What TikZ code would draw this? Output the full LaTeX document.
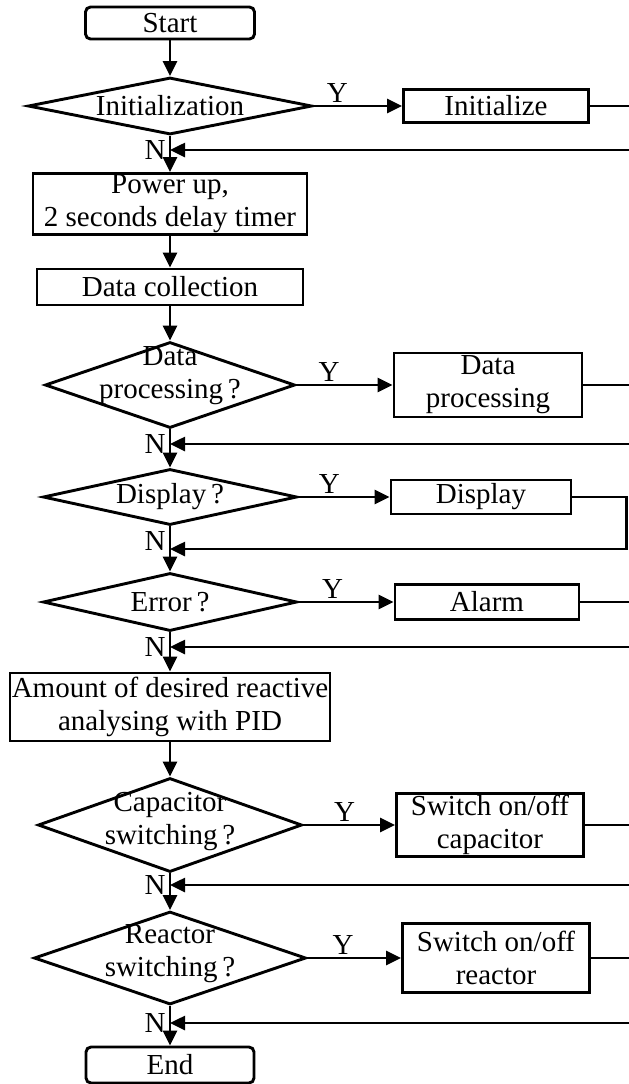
\documentclass[tikz,border=0pt]{standalone}
\usepackage{fontspec}
\setmainfont{Liberation Serif}
\usetikzlibrary{arrows.meta, positioning, shapes.geometric, calc}

\begin{document}
\begin{tikzpicture}[
  x=0.5pt, y=-0.5pt,
  font=\fontsize{14.5}{16.5}\selectfont,
  line width=1.45pt,
  box/.style={draw, rectangle, inner sep=0pt, align=center},
  term/.style={box, rounded corners=2.5pt},
  cond/.style={draw, diamond, inner sep=0pt},
  dtext/.style={align=center, inner sep=0pt},
  flow/.style={-{Triangle[length=7.5pt, width=7pt]}},
  back/.style={flow, line width=1.3pt},
  ylab/.style={above, inner sep=1pt},
  nlab/.style={left, inner sep=1.5pt}
]
\useasboundingbox (0,0) rectangle (628,1084);
% columns for the loop-back lines
\coordinate (rx) at (632,0);
\coordinate (rxd) at (626.5,0);

% main column
\node[term, minimum width=84.5pt, minimum height=16pt] (start) at (170,23) {Start};
\node[cond, minimum width=142pt, minimum height=28.5pt] (init) at (170,106) {};
\node[dtext] (init-t) at (init) {Initialization};
\coordinate (j1) at (170,150);
\node[box, minimum width=137pt, minimum height=30.5pt] (power) at (170,204) {Power up,\\2 seconds delay timer};
\node[box, minimum width=133pt, minimum height=18pt] (coll) at (170,287) {Data collection};
\node[cond, minimum width=125pt, minimum height=43pt] (dp) at (170,385) {};
\node[dtext] (dp-t) at (170,376) {Data\\processing\,?};
\coordinate (j2) at (170,444);
\node[cond, minimum width=127pt, minimum height=28pt] (disp) at (170,497) {};
\node[dtext] (disp-t) at (disp) {Display\,?};
\coordinate (j3) at (170,549);
\node[cond, minimum width=127pt, minimum height=29pt] (err) at (170,602) {};
\node[dtext] (err-t) at (err) {Error\,?};
\coordinate (j4) at (170,647);
\node[box, minimum width=160pt, minimum height=34pt] (amount) at (170,707) {Amount of desired reactive\\analysing with PID};
\node[cond, minimum width=132pt, minimum height=47pt] (cap) at (170,825) {};
\node[dtext] (cap-t) at (170,822) {Capacitor\\switching\,?};
\coordinate (j5) at (170,885);
\node[cond, minimum width=136pt, minimum height=46.5pt] (reac) at (170,958) {};
\node[dtext] (reac-t) at (170,954) {Reactor\\switching\,?};
\coordinate (j6) at (170,1023);
\node[term, minimum width=84pt, minimum height=18pt] (end) at (170,1065) {End};

% action column
\node[box, minimum width=92.5pt, minimum height=16.5pt] (initb) at (496,106) {Initialize};
\node[box, minimum width=94pt, minimum height=32pt] (dpb) at (488,385) {Data\\processing};
\node[box, minimum width=90pt, minimum height=17pt] (dispb) at (481,497) {Display};
\node[box, minimum width=92pt, minimum height=17.5pt] (alarm) at (487,602) {Alarm};
\node[box, minimum width=93.5pt, minimum height=31.5pt] (capb) at (490,825) {Switch on/off\\capacitor};
\node[box, minimum width=93.5pt, minimum height=34.5pt] (reacb) at (496,958) {Switch on/off\\reactor};

% downward flow
\draw[flow] (start) -- (init);
\draw[flow] (init) -- (power);
\draw[flow] (power) -- (coll);
\draw[flow] (coll) -- (dp);
\draw[flow] (dp) -- (disp);
\draw[flow] (disp) -- (err);
\draw[flow] (err) -- (amount);
\draw[flow] (amount) -- (cap);
\draw[flow] (cap) -- (reac);
\draw[flow] (reac) -- (end);

% yes branches
\draw[flow] (init) -- node[ylab, pos=.27] (y1) {Y} (initb);
\draw[flow] (dp) -- node[ylab, pos=.34] (y2) {Y} (dpb);
\draw[flow] (disp) -- node[ylab, pos=.34] (y3) {Y} (dispb);
\draw[flow] (err) -- node[ylab, pos=.36] (y4) {Y} (alarm);
\draw[flow] (cap) -- node[ylab, pos=.45] (y5) {Y} (capb);
\draw[flow] (reac) -- node[ylab, pos=.38] (y6) {Y} (reacb);

% loop back
\draw[back] (initb.east) -- (initb.east -| rx) |- (j1);
\draw[back] (dpb.east) -- (dpb.east -| rx) |- (j2);
\draw[back] (dispb.east) -- (dispb.east -| rxd) |- (j3);
\draw[back] (alarm.east) -- (alarm.east -| rx) |- (j4);
\draw[back] (capb.east) -- (capb.east -| rx) |- (j5);
\draw[back] (reacb.east) -- (reacb.east -| rx) |- (j6);

% no labels
\node[nlab] (n1) at (j1) {N};
\node[nlab] (n2) at (j2) {N};
\node[nlab] (n3) at ($(j3)+(0,-8)$) {N};
\node[nlab] (n4) at (j4) {N};
\node[nlab] (n5) at (j5) {N};
\node[nlab] (n6) at (j6) {N};
\end{tikzpicture}
\end{document}
